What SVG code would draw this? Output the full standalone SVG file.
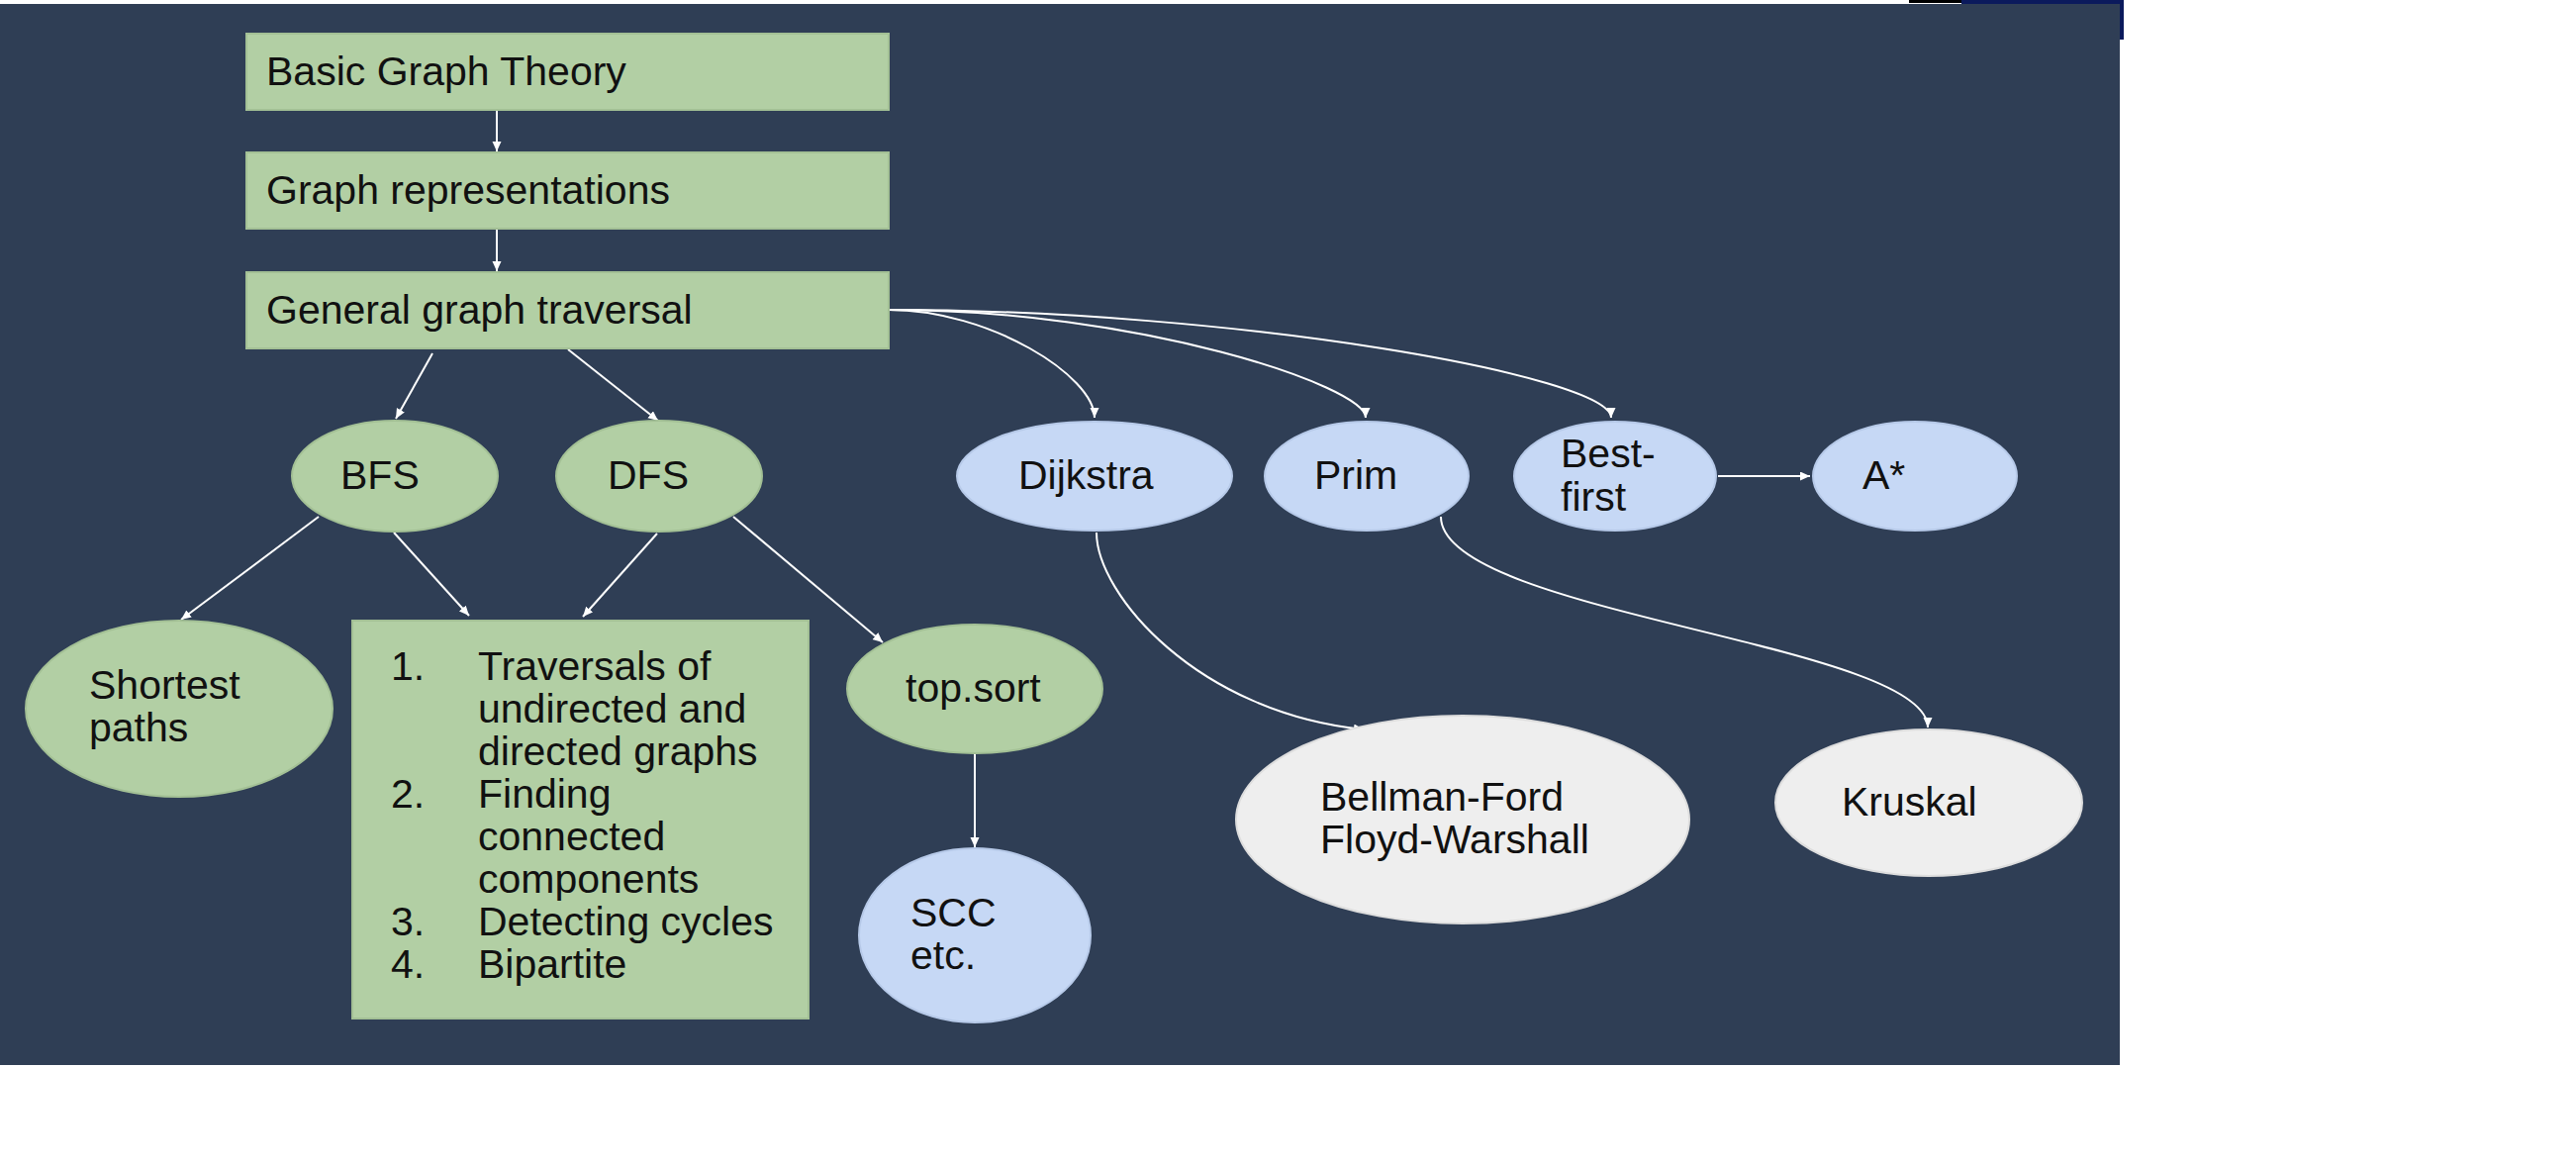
<svg xmlns="http://www.w3.org/2000/svg" width="2603" height="1177" viewBox="0 0 2603 1177">
<defs>
<style>
.t{font-family:"Liberation Sans",Arial,sans-serif;font-size:41px;fill:#111}
.g{fill:#B2CFA4;stroke:#A3C095;stroke-width:2}
.b{fill:#C6D8F5;stroke:#B6C9E8;stroke-width:2}
.w{fill:#EEEEEE;stroke:#DDDDDD;stroke-width:2}
.c{fill:none;stroke:#FFFFFF;stroke-width:2;marker-end:url(#ah)}
</style>
<marker id="ah" markerUnits="userSpaceOnUse" markerWidth="12" markerHeight="10" refX="10" refY="4.5" orient="auto">
<path d="M0,0 L10,4.5 L0,9 z" fill="#FFFFFF"/>
</marker>
</defs>
<rect x="0" y="0" width="2603" height="1177" fill="#FFFFFF"/>
<rect x="1929" y="0" width="53" height="3" fill="#000000"/>
<rect x="1982" y="0" width="164" height="40" fill="#0B1A5C"/>
<rect x="0" y="4" width="2142" height="1072" fill="#2F3E55"/>

<g id="connectors">
<line class="c" x1="502" y1="111" x2="502" y2="153"/>
<line class="c" x1="502" y1="231" x2="502" y2="274"/>
<line class="c" x1="437" y1="357" x2="400" y2="423"/>
<line class="c" x1="574" y1="353" x2="665" y2="425"/>
<line class="c" x1="322" y1="522" x2="183" y2="626"/>
<line class="c" x1="398" y1="538" x2="474" y2="622"/>
<line class="c" x1="664" y1="539" x2="589" y2="623"/>
<line class="c" x1="741" y1="522" x2="892" y2="649"/>
<line class="c" x1="985" y1="762" x2="985" y2="856"/>
<path class="c" d="M898,313 C1000,313 1106,380 1106,422"/>
<path class="c" d="M898,313 C1150,313 1380,390 1380,422"/>
<path class="c" d="M898,313 C1250,313 1628,380 1628,422"/>
<line class="c" x1="1736" y1="481" x2="1829" y2="481"/>
<path class="c" d="M1108,538 C1108,600 1210,720 1378,737"/>
<path class="c" d="M1456,522 C1456,620 1948,650 1948,735"/>
</g>

<g id="basic">
<rect class="g" x="249" y="34" width="649" height="77"/>
<text class="t" x="269" y="86">Basic Graph Theory</text>
</g>
<g id="representations">
<rect class="g" x="249" y="154" width="649" height="77"/>
<text class="t" x="269" y="206">Graph representations</text>
</g>
<g id="traversal">
<rect class="g" x="249" y="275" width="649" height="77"/>
<text class="t" x="269" y="327">General graph traversal</text>
</g>
<g id="bfs">
<ellipse class="g" cx="399" cy="481" rx="104" ry="56"/>
<text class="t" x="344" y="494">BFS</text>
</g>
<g id="dfs">
<ellipse class="g" cx="666" cy="481" rx="104" ry="56"/>
<text class="t" x="614" y="494">DFS</text>
</g>
<g id="dijkstra">
<ellipse class="b" cx="1106" cy="481" rx="139" ry="55"/>
<text class="t" x="1029" y="494">Dijkstra</text>
</g>
<g id="prim">
<ellipse class="b" cx="1381" cy="481" rx="103" ry="55"/>
<text class="t" x="1328" y="494">Prim</text>
</g>
<g id="bestfirst">
<ellipse class="b" cx="1632" cy="481" rx="102" ry="55"/>
<text class="t" x="1577" y="472">Best-</text>
<text class="t" x="1577" y="516">first</text>
</g>
<g id="astar">
<ellipse class="b" cx="1935" cy="481" rx="103" ry="55"/>
<text class="t" x="1882" y="494">A*</text>
</g>
<g id="shortest">
<ellipse class="g" cx="181" cy="716" rx="155" ry="89"/>
<text class="t" x="90" y="706">Shortest</text>
<text class="t" x="90" y="749">paths</text>
</g>
<g id="list">
<rect class="g" x="356" y="627" width="461" height="402"/>
<text class="t" x="395" y="687">1.</text>
<text class="t" x="483" y="687">Traversals of</text>
<text class="t" x="483" y="730">undirected and</text>
<text class="t" x="483" y="773">directed graphs</text>
<text class="t" x="395" y="816">2.</text>
<text class="t" x="483" y="816">Finding</text>
<text class="t" x="483" y="859">connected</text>
<text class="t" x="483" y="902">components</text>
<text class="t" x="395" y="945">3.</text>
<text class="t" x="483" y="945">Detecting cycles</text>
<text class="t" x="395" y="988">4.</text>
<text class="t" x="483" y="988">Bipartite</text>
</g>
<g id="topsort">
<ellipse class="g" cx="985" cy="696" rx="129" ry="65"/>
<text class="t" x="915" y="709">top.sort</text>
</g>
<g id="scc">
<ellipse class="b" cx="985" cy="945" rx="117" ry="88"/>
<text class="t" x="920" y="936">SCC</text>
<text class="t" x="920" y="979">etc.</text>
</g>
<g id="bellman">
<ellipse class="w" cx="1478" cy="828" rx="229" ry="105"/>
<text class="t" x="1334" y="819">Bellman-Ford</text>
<text class="t" x="1334" y="862">Floyd-Warshall</text>
</g>
<g id="kruskal">
<ellipse class="w" cx="1949" cy="811" rx="155" ry="74"/>
<text class="t" x="1861" y="824">Kruskal</text>
</g>
</svg>
